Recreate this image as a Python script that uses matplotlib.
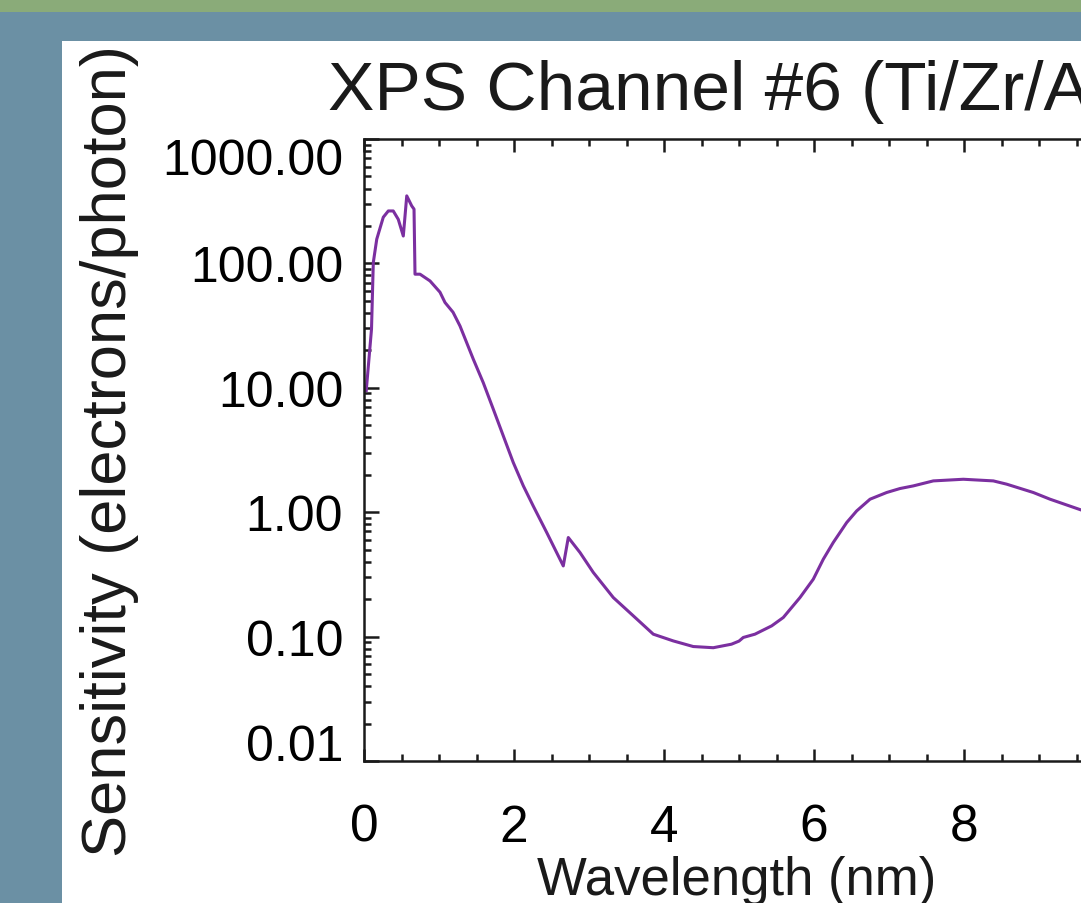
#!/usr/bin/env python3
"""XPS channel #6 sensitivity curve, cropped slide look (log y)."""
import numpy as np
import matplotlib
matplotlib.use("Agg")
import matplotlib.pyplot as plt
from matplotlib.patches import Rectangle
from matplotlib.transforms import ScaledTranslation
from matplotlib.ticker import FixedLocator, LogLocator, MultipleLocator, FuncFormatter

# ---- data (nm, electrons/photon) ----
wavelength = [0.03, 0.10, 0.124, 0.17, 0.257, 0.324, 0.39, 0.457, 0.524,
              0.57, 0.636, 0.667, 0.68, 0.747, 0.88, 1.013, 1.08, 1.187,
              1.28, 1.457, 1.59, 1.724, 1.857, 1.99, 2.124, 2.257, 2.436,
              2.657, 2.724, 2.88, 3.057, 3.324, 3.59, 3.857, 4.124, 4.39,
              4.657, 4.90, 5.0, 5.057, 5.213, 5.436, 5.591, 5.813, 5.99,
              6.124, 6.257, 6.436, 6.569, 6.747, 6.969, 7.147, 7.324,
              7.591, 7.991, 8.391, 8.569, 8.924, 9.147, 9.56, 9.8]
sensitivity = [9.5, 29.6, 101.7, 156.6, 235, 264, 264, 226, 166,
               349, 290, 273, 81.9, 81.9, 72.3, 58.7, 48.5, 40.5,
               31.4, 17.0, 11.0, 6.73, 4.11, 2.51, 1.63, 1.12, 0.687,
               0.37, 0.626, 0.474, 0.328, 0.206, 0.147, 0.1046, 0.0923, 0.0832,
               0.0814, 0.0869, 0.092, 0.0984, 0.1046, 0.122, 0.1425, 0.206, 0.289,
               0.419, 0.571, 0.826, 1.024, 1.272, 1.44, 1.55, 1.627,
               1.785, 1.84, 1.785, 1.68, 1.44, 1.272, 1.043, 0.93]

ytick_vals = [0.01, 0.1, 1, 10, 100, 1000]
xtick_vals = [0, 2, 4, 6, 8]

W, H = 1081, 904
FONT = "Liberation Sans"
plt.rcParams["font.family"] = [FONT, "DejaVu Sans"]

fig = plt.figure(figsize=(W / 100, H / 100), dpi=100, facecolor="#6b90a4")
# slide decoration: green band + white panel (behind the axes)
fig.patches.append(Rectangle((0, 1 - 13 / H), 1, 13 / H, transform=fig.transFigure,
                             facecolor="#8aab79", edgecolor="none", zorder=-5))
fig.patches.append(Rectangle((62 / W, 0), 1, 1 - 42 / H, transform=fig.transFigure,
                             facecolor="white", edgecolor="none", zorder=-5))

# axes extend past the right edge (image is cropped)
ax = fig.add_axes([364 / W, 1 - 762 / H, 750 / W, 622 / H])
ax.set_facecolor("none")
ax.plot(wavelength, sensitivity, color="#7b2fa0", linewidth=2.2)
ax.set_yscale("log")
ax.set_xlim(0, 10)
ax.set_ylim(0.01, 1000)

ax.xaxis.set_major_locator(FixedLocator(xtick_vals))
ax.xaxis.set_minor_locator(MultipleLocator(0.5))
ax.yaxis.set_major_locator(FixedLocator(ytick_vals))
ax.yaxis.set_minor_locator(LogLocator(base=10, subs=np.arange(2, 10)))
ax.yaxis.set_major_formatter(FuncFormatter(lambda v, p: f"{v:.2f}"))
ax.xaxis.set_major_formatter(FuncFormatter(lambda v, p: f"{v:.0f}"))

for s in ax.spines.values():
    s.set_linewidth(1.8)
    s.set_color("#1a1a1a")
ax.tick_params(which="both", direction="in", top=True, right=True,
               color="#1a1a1a", width=1.8)
ax.tick_params(which="major", length=9)
ax.tick_params(which="minor", length=5)
ax.tick_params(axis="y", which="major", length=11, pad=15, labelsize=36)
ax.tick_params(axis="x", which="major", pad=30, labelsize=37)

# end labels sit inside the axis range, as in the original
yticks = ax.yaxis.get_major_ticks()
yticks[0].label1.set_transform(yticks[0].label1.get_transform()
                               + ScaledTranslation(0, 0.19, fig.dpi_scale_trans))
yticks[-1].label1.set_transform(yticks[-1].label1.get_transform()
                                + ScaledTranslation(0, -0.17, fig.dpi_scale_trans))

fig.text(328 / W, 1 - 110 / H, "XPS Channel #6 (Ti/Zr/Al)", fontsize=50,
         ha="left", va="baseline", color="#1a1a1a")
fig.text(110 / W, 453 / H, "Sensitivity (electrons/photon)", fontsize=45.5,
         rotation=90, ha="center", va="center", color="#1a1a1a")
fig.text(737 / W, 1 - 856 / H, "Wavelength (nm)", fontsize=38,
         ha="center", va="top", color="#1a1a1a")

fig.savefig("out.png", dpi=100, facecolor=fig.get_facecolor())
print("Saved: out.png")
